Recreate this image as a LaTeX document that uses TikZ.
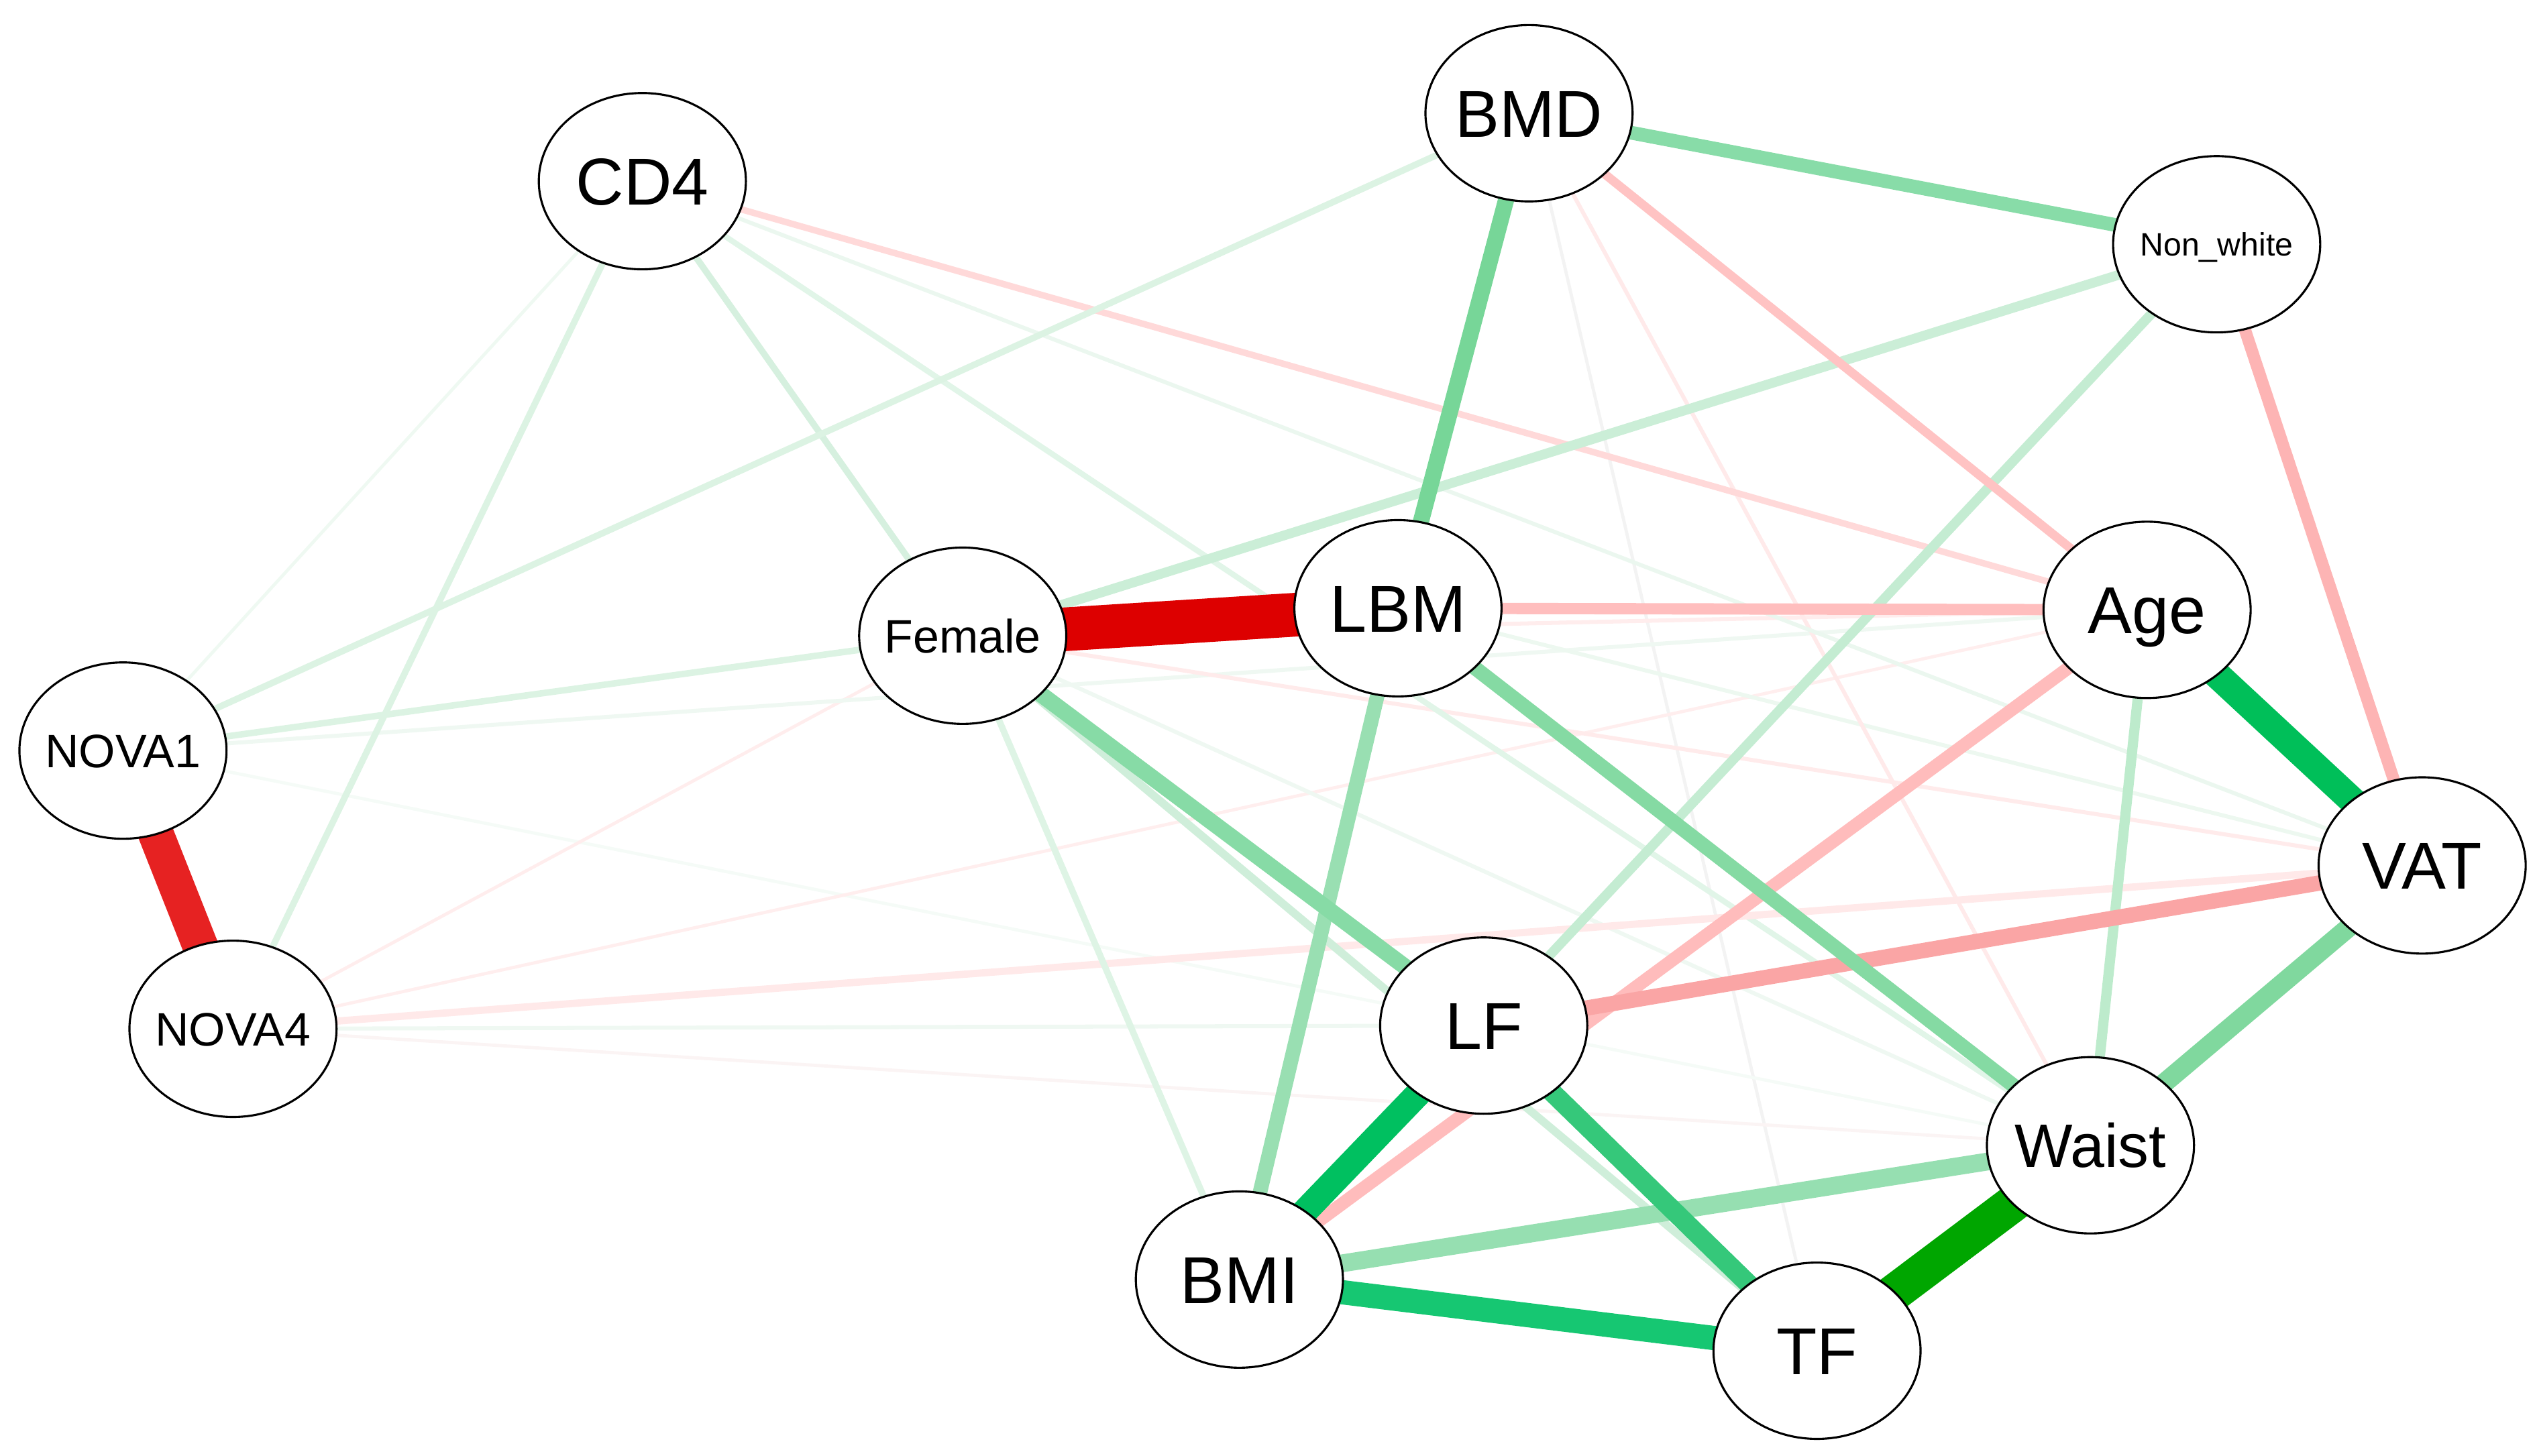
\documentclass[tikz,border=0pt]{standalone}
\usepackage{fontspec}
\setmainfont{Liberation Sans}
\usetikzlibrary{shapes.geometric}
\pgfdeclarelayer{bg}
\pgfsetlayers{bg,main}
\newcommand\lnk[4]{\definecolor{lkc}{HTML}{#3}\draw[link, draw=lkc, line width=#4pt] (#1.center) -- (#2.center);}
\begin{document}
\begin{tikzpicture}[x=1pt, y=-1pt,
  vtx/.style={ellipse, draw=black, fill=white, line width=1.3pt, minimum width=128pt, minimum height=109pt, inner sep=0pt},
  big/.style={font=\fontsize{41}{41}\selectfont, text height=29.4pt, text depth=0pt},
  wst/.style={font=\fontsize{38}{38}\selectfont, text height=27.2pt, text depth=0pt},
  mid/.style={font=\fontsize{29}{29}\selectfont, text height=20.8pt, text depth=0pt},
  sml/.style={font=\fontsize{20}{20}\selectfont, text height=14.3pt, text depth=0pt},
  link/.style={line cap=butt}]
\useasboundingbox (0,0) rectangle (1568,900);
\node[vtx, big] (CD4) at (397,112) {\makebox[0pt]{CD4}};
\node[vtx, big] (BMD) at (945,70) {\makebox[0pt]{BMD}};
\node[vtx, sml] (NW) at (1370,151) {\makebox[0pt]{Non\_white}};
\node[vtx, mid] (Fem) at (595,393) {\makebox[0pt]{Female}};
\node[vtx, big] (LBM) at (864,376) {\makebox[0pt]{LBM}};
\node[vtx, big] (Age) at (1327,377) {\makebox[0pt]{Age}};
\node[vtx, mid] (N1) at (76,464) {\makebox[0pt]{NOVA1}};
\node[vtx, big] (VAT) at (1497,535) {\makebox[0pt]{VAT}};
\node[vtx, mid] (N4) at (144,636) {\makebox[0pt]{NOVA4}};
\node[vtx, big] (LF) at (917,634) {\makebox[0pt]{LF}};
\node[vtx, wst] (Waist) at (1292,708) {\makebox[0pt]{Waist}};
\node[vtx, big] (BMI) at (766,791) {\makebox[0pt]{BMI}};
\node[vtx, big] (TF) at (1123,835) {\makebox[0pt]{TF}};
\begin{pgfonlayer}{bg}
% faint edges
\lnk{BMD}{TF}{F3F3F3}{2}
\lnk{N1}{Waist}{F5FBF7}{2}
\lnk{N4}{Waist}{FBF4F4}{2}
\lnk{CD4}{N1}{EFF9F2}{2}
\lnk{N4}{Fem}{FFEDED}{2}
\lnk{N4}{Age}{FFEEEE}{2}
\lnk{N4}{LF}{EFF8F2}{2.5}
\lnk{N1}{Age}{EFF8F2}{2.5}
\lnk{Fem}{Waist}{EFF8F2}{2.5}
\lnk{Fem}{VAT}{FFEBEB}{2.5}
\lnk{Fem}{Age}{FFEDED}{2.5}
\lnk{LBM}{VAT}{EDF8F0}{2.5}
\lnk{BMD}{Waist}{FFEAEA}{2.5}
\lnk{CD4}{VAT}{EBF7EF}{2.5}
\lnk{CD4}{Waist}{E1F5E8}{3.5}
\lnk{CD4}{Age}{FFD9D9}{4}
\lnk{CD4}{N4}{DCF3E3}{4}
\lnk{CD4}{Fem}{D6F0DF}{4}
\lnk{BMD}{N1}{DCF3E3}{4}
\lnk{Fem}{N1}{DCF3E3}{4}
\lnk{N4}{VAT}{FFE9E9}{4.5}
\lnk{Fem}{BMI}{DEF4E5}{4}
\lnk{Fem}{TF}{CFEEDA}{5}
% medium edges
\lnk{Fem}{NW}{CBEED7}{6}
\lnk{NW}{LF}{C4ECD2}{6}
\lnk{Age}{Waist}{BDEBCC}{6.3}
\lnk{BMD}{Age}{FFC3C3}{5.5}
\lnk{LBM}{Age}{FFBEBE}{7}
\lnk{NW}{VAT}{FDB4B4}{7.5}
\lnk{Age}{BMI}{FFBCBC}{8}
\lnk{BMD}{NW}{88DCA8}{8.5}
\lnk{LBM}{BMI}{99DFB2}{9}
\lnk{LF}{VAT}{FAA5A5}{9.5}
\lnk{LBM}{Waist}{85DAA3}{9}
\lnk{Fem}{LF}{87DBA6}{10}
\lnk{BMD}{LBM}{77D698}{10}
\lnk{BMI}{Waist}{96DFB1}{11}
\lnk{Waist}{VAT}{80D89E}{12}
% strong edges
\lnk{LF}{TF}{35C87A}{12}
\lnk{BMI}{TF}{16C772}{15}
\lnk{LF}{BMI}{00C060}{16}
\lnk{Age}{VAT}{00BF59}{17}
\lnk{N1}{N4}{E62222}{22}
\lnk{Waist}{TF}{00A600}{23}
\lnk{Fem}{LBM}{DD0000}{27}
\end{pgfonlayer}
\end{tikzpicture}
\end{document}
